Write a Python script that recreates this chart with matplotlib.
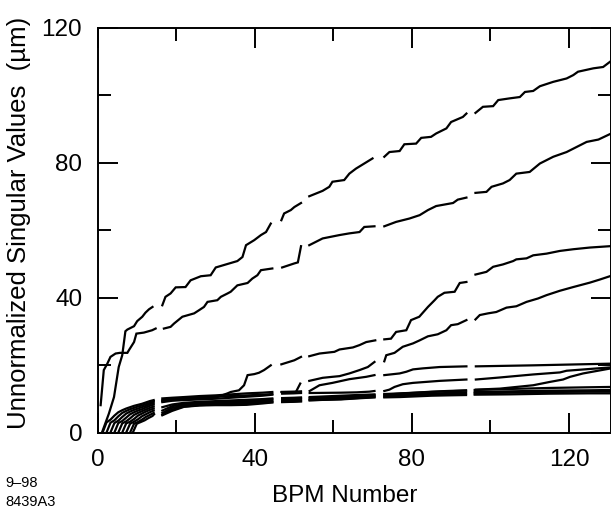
import numpy as np
import matplotlib
matplotlib.use("Agg")
import matplotlib.pyplot as plt
from matplotlib.ticker import MultipleLocator

n = np.nan
GAP = (n, n)  # missing BPMs break the curves

# cumulative singular values (um) vs BPM number
line_a = [(1.2, 0.2), (2.9, 5.6), (4.2, 10.5), (5.4, 19.4), (6.3, 22.9), (7.1, 30.0), (7.6, 30.5),
          (9.3, 31.5), (10.1, 33.0), (11.4, 34.3), (12.2, 35.5), (13.1, 36.5), (14.0, 37.2), GAP,
          (16.5, 37.7), (17.3, 40.2), (18.6, 41.2), (19.9, 43.0), (22.4, 43.1), (23.7, 45.1),
          (26.3, 46.3), (28.8, 46.6), (30.1, 48.9), (32.7, 49.8), (35.6, 50.8), (36.9, 52.0),
          (37.8, 55.5), (39.9, 57.0), (41.6, 58.5), (42.9, 59.4), (44.1, 61.9), GAP,
          (46.8, 62.9), (47.5, 64.9), (49.2, 65.9), (50.1, 66.8), (51.8, 68.0), GAP,
          (53.9, 70.0), (57.3, 71.6), (59.0, 72.8), (59.8, 74.3), (62.8, 74.8), (64.1, 76.7),
          (65.8, 78.2), (67.9, 79.7), (70.0, 81.2), GAP,
          (73.0, 81.7), (74.3, 83.1), (76.9, 83.4), (78.1, 85.4), (81.1, 85.6), (82.4, 87.3),
          (84.9, 87.6), (86.2, 88.6), (88.8, 90.1), (90.0, 92.0), (93.0, 93.5), (93.9, 94.5), GAP,
          (96.2, 94.7), (98.1, 96.5), (100.7, 96.7), (102.0, 98.5), (104.9, 99.0), (107.5, 99.4),
          (108.8, 100.9), (110.9, 101.2), (112.6, 102.6), (116.0, 103.9), (119.4, 104.9),
          (121.1, 105.9), (122.3, 106.9), (126.2, 107.9), (128.7, 108.3), (130.4, 109.8)]

line_b = [(0.8, 8.1), (1.6, 18.5), (2.5, 20.4), (3.3, 22.4), (4.6, 23.4), (5.7, 23.6), (7.6, 23.6),
          (8.0, 24.4), (9.3, 26.8), (9.9, 29.3), (11.8, 29.6), (13.9, 30.3), (14.8, 30.8), GAP,
          (16.9, 30.8), (18.6, 31.3), (19.5, 32.3), (21.6, 34.3), (24.6, 35.3), (25.8, 36.2),
          (27.1, 37.2), (28.0, 38.7), (30.5, 39.2), (31.4, 40.2), (33.1, 41.2), (33.9, 41.7),
          (35.6, 43.6), (38.2, 44.3), (39.4, 45.6), (40.7, 46.6), (41.6, 48.1), (44.5, 48.6), GAP,
          (47.0, 48.9), (50.1, 50.1), (51.0, 50.4), (51.8, 55.2), GAP,
          (53.9, 55.5), (57.3, 57.5), (61.6, 58.5), (64.1, 59.0), (66.7, 59.4), (67.9, 60.9),
          (70.5, 61.1), GAP,
          (73.0, 61.1), (76.0, 62.4), (79.4, 63.4), (82.0, 64.4), (84.1, 65.9), (86.2, 67.1),
          (90.5, 68.0), (91.7, 69.0), (93.9, 69.6), GAP,
          (96.2, 71.0), (99.0, 71.3), (100.3, 72.8), (103.2, 73.8), (104.9, 74.8), (106.6, 76.7),
          (110.0, 77.2), (112.6, 79.7), (116.0, 81.7), (119.4, 83.1), (121.1, 84.1),
          (124.5, 86.1), (127.5, 86.8), (130.4, 88.4)]

line_c = [(3.3, 0), (4.3, 2.8), (5.3, 3.5), (6.3, 4.6), (7.3, 5.6), (8.3, 6.2), (9.3, 6.7),
          (10.3, 7.1), (11.3, 7.5), (12.3, 7.9), (13.3, 8.4), (14.3, 8.8), GAP,
          (16.5, 9.3), (19, 9.6), (22, 9.8), (26, 10.0), (30, 10.3), (33.1, 11.6), (33.9, 12.0),
          (36.0, 12.5), (37.3, 14.0), (38.2, 17.0), (39.9, 17.3), (41.1, 17.7), (42.4, 18.5),
          (44.1, 19.9), GAP,
          (46.8, 20.2), (50.1, 21.4), (51.8, 22.4), GAP,
          (53.9, 22.6), (56.5, 23.4), (60.3, 23.9), (61.6, 24.6), (65.0, 25.2), (66.7, 25.9),
          (68.4, 26.8), (70.7, 27.3), GAP,
          (73.0, 27.6), (74.7, 27.8), (76.0, 29.8), (78.6, 30.3), (79.8, 33.3), (81.9, 34.3),
          (84.1, 37.2), (85.8, 39.2), (86.6, 40.2), (88.3, 41.4), (90.9, 41.7), (92.2, 44.3),
          (93.9, 44.6), GAP,
          (96.2, 46.8), (99.0, 47.6), (100.7, 49.1), (103.2, 49.8), (105.8, 50.8), (106.6, 51.3),
          (109.2, 51.6), (110.9, 52.5), (114.3, 53.0), (117.7, 53.8), (121.1, 54.3),
          (125.3, 54.8), (130.4, 55.2)]

line_d = [(4.3, 0), (5.3, 2.8), (6.3, 3.4), (7.3, 4.4), (8.3, 5.4), (9.3, 6.0), (10.3, 6.5),
          (11.3, 6.9), (12.3, 7.4), (13.3, 7.9), (14.3, 8.3), GAP,
          (16.5, 9.0), (19, 9.4), (22, 9.6), (26, 9.8), (30, 10.0), (34, 10.3), (38, 10.6),
          (42, 10.9), (44.5, 11.2), GAP,
          (46.8, 12.0), (50.5, 12.0), (51.6, 14.5), GAP,
          (53.9, 15.3), (57.3, 16.2), (59.8, 16.5), (61.6, 16.7), (64.1, 17.5), (66.7, 18.5),
          (68.8, 19.4), (70.5, 20.9), GAP,
          (73.0, 21.1), (73.5, 22.9), (75.6, 23.6), (77.7, 25.4), (80.3, 26.4), (82.0, 27.3),
          (84.1, 28.5), (86.6, 29.1), (88.8, 30.3), (90.0, 31.8), (91.7, 32.1), (93.9, 33.3), GAP,
          (96.2, 33.5), (97.3, 34.8), (99.4, 35.3), (101.5, 35.7), (104.1, 37.0), (106.6, 37.4),
          (109.2, 38.7), (112.1, 39.7), (114.3, 40.7), (117.7, 42.0), (121.1, 43.1),
          (125.3, 44.4), (127.8, 45.3), (130.4, 46.3)]

line_e = [(1.3, 0), (2.3, 3.0), (3.3, 3.8), (4.3, 5.0), (5.3, 6.0), (6.3, 6.6), (7.3, 7.1),
          (8.3, 7.5), (9.3, 7.9), (10.3, 8.2), (11.3, 8.5), (12.3, 8.9), (13.3, 9.3), (14.3, 9.6), GAP,
          (16.5, 10.1), (19, 10.3), (22, 10.5), (26, 10.8), (30, 11.0), (34, 11.3), (38, 11.6),
          (42, 11.8), (44.5, 12.0), GAP,
          (47, 12.0), (50, 12.1), (51.8, 12.2), GAP,
          (54, 12.3), (56.5, 14.0), (59.8, 14.7), (64.1, 15.8), (68.4, 16.5), (70.5, 17.0), GAP,
          (73, 17.0), (76.9, 17.5), (78.6, 18.0), (80.3, 18.7), (82.8, 19.0), (87.1, 19.4),
          (93.9, 19.6), GAP,
          (96.3, 19.6), (110.9, 19.9), (130.7, 20.4)]

line_f = [(2.3, 0), (3.3, 2.9), (4.3, 3.6), (5.3, 4.8), (6.3, 5.8), (7.3, 6.4), (8.3, 6.9),
          (9.3, 7.3), (10.3, 7.7), (11.3, 8.0), (12.3, 8.4), (13.3, 8.8), (14.3, 9.2), GAP,
          (16.5, 9.6), (19, 9.9), (22, 10.1), (26, 10.4), (30, 10.6), (34, 10.8), (38, 11.0),
          (42, 11.2), (44.5, 11.4), GAP,
          (47, 11.5), (50, 11.6), (51.8, 11.7), GAP,
          (54, 11.7), (62, 11.8), (66, 11.9), (69.2, 12.1), (70.5, 12.3), GAP,
          (73, 12.3), (74.3, 12.7), (75.6, 13.5), (77.7, 14.3), (80.3, 14.7), (83.7, 15.0),
          (87.1, 15.3), (93.9, 15.7), GAP,
          (96.3, 15.7), (102.4, 16.3), (110.9, 17.2), (117.7, 17.8), (119.4, 18.3), (130.7, 19.3)]

line_g = [(5.3, 0), (6.3, 2.7), (7.3, 3.3), (8.3, 4.2), (9.3, 5.2), (10.3, 5.8), (11.3, 6.3),
          (12.3, 6.8), (13.3, 7.3), (14.3, 7.7), GAP,
          (16.5, 7.5), (19, 8.3), (22, 8.8), (26, 9.1), (30, 9.3), (34, 9.5), (38, 9.7),
          (42, 9.9), (44.5, 10.1), GAP,
          (47, 10.2), (50, 10.3), (51.8, 10.4), GAP,
          (54, 10.5), (58, 10.7), (62, 10.9), (66, 11.1), (70.5, 11.3), GAP,
          (73, 11.4), (77, 11.6), (81, 11.8), (85, 12.0), (89, 12.2), (93.8, 12.4), GAP,
          (96.3, 12.7), (102.4, 13.0), (110.9, 14.0), (115.2, 15.0), (118.5, 15.7),
          (120.3, 16.5), (123.6, 17.5), (130.7, 19.0)]

line_h1 = [(6.3, 0), (7.3, 2.7), (8.3, 3.2), (9.3, 4.0), (10.3, 5.0), (11.3, 5.6), (12.3, 6.2),
           (13.3, 6.7), (14.3, 7.1), GAP,
           (16.5, 6.5), (19, 7.8), (22, 8.4), (26, 8.8), (30, 9.0), (34, 9.2), (38, 9.4),
           (42, 9.6), (44.5, 9.8), GAP,
           (47, 9.9), (50, 10.0), (51.8, 10.1), GAP,
           (54, 10.2), (58, 10.4), (62, 10.6), (66, 10.9), (70.5, 11.1), GAP,
           (73, 11.2), (77, 11.5), (81, 11.8), (85, 12.1), (89, 12.3), (93.8, 12.5), GAP,
           (96, 12.6), (105, 12.9), (115, 13.2), (125, 13.4), (130.7, 13.5)]

line_h2 = [(7.3, 0), (8.3, 2.6), (9.3, 3.2), (10.3, 3.9), (11.3, 4.8), (12.3, 5.4), (13.3, 6.0),
           (14.3, 6.5), GAP,
           (16.5, 5.8), (19, 7.3), (22, 8.0), (26, 8.4), (30, 8.6), (34, 8.8), (38, 9.0),
           (42, 9.2), (44.5, 9.4), GAP,
           (47, 9.5), (50, 9.6), (51.8, 9.7), GAP,
           (54, 9.8), (58, 10.0), (62, 10.2), (66, 10.5), (70.5, 10.8), GAP,
           (73, 10.9), (77, 11.1), (81, 11.3), (85, 11.5), (89, 11.7), (93.8, 11.9), GAP,
           (96, 12.0), (105, 12.2), (115, 12.4), (125, 12.5), (130.7, 12.6)]

line_h3 = [(8.3, 0), (9.3, 2.6), (10.3, 3.1), (11.3, 3.8), (12.3, 4.6), (13.3, 5.2), (14.3, 5.8), GAP,
           (16.5, 5.3), (19, 6.8), (22, 7.7), (26, 8.1), (30, 8.3), (34, 8.4), (38, 8.6),
           (42, 8.8), (44.5, 9.0), GAP,
           (47, 9.1), (50, 9.2), (51.8, 9.3), GAP,
           (54, 9.5), (58, 9.7), (62, 9.9), (66, 10.2), (70.5, 10.5), GAP,
           (73, 10.6), (77, 10.8), (81, 11.0), (85, 11.2), (89, 11.4), (93.8, 11.5), GAP,
           (96, 11.6), (105, 11.8), (115, 12.0), (125, 12.1), (130.7, 12.1)]

line_h4 = [(9.0, 0), (10.0, 2.6), (11.0, 3.1), (12.0, 3.6), (13.0, 4.3), (14.0, 4.9), (14.4, 5.4), GAP,
           (16.5, 5.1), (19, 6.4), (22, 7.6), (26, 8.0), (30, 8.1), (34, 8.1), (38, 8.2),
           (42, 8.6), (44.5, 8.9), GAP,
           (47, 9.0), (50, 9.1), (51.8, 9.2), GAP,
           (54, 9.6), (58, 9.7), (62, 9.8), (66, 10.1), (70.5, 10.4), GAP,
           (73, 10.4), (77, 10.5), (81, 10.7), (85, 10.9), (89, 11.0), (93.8, 11.1), GAP,
           (96, 11.2), (105, 11.3), (115, 11.5), (125, 11.6), (130.7, 11.6)]

all_lines = [line_a, line_b, line_c, line_d, line_e, line_f, line_g,
             line_h1, line_h2, line_h3, line_h4]

plt.rcParams['font.family'] = ['Liberation Sans', 'DejaVu Sans']

fig = plt.figure(figsize=(6.11, 5.12), dpi=100)
ax = fig.add_axes([97.5 / 611, 79.5 / 512, 1 - 97.5 / 611, 405 / 512])

for line in all_lines:
    xy = np.array(line, dtype=float)
    ax.plot(xy[:, 0], xy[:, 1], color='black', lw=1.6, solid_joinstyle='miter')

ax.set_xlim(0, 130.7)
ax.set_ylim(0, 120)
ax.xaxis.set_major_locator(MultipleLocator(40))
ax.xaxis.set_minor_locator(MultipleLocator(20))
ax.yaxis.set_major_locator(MultipleLocator(40))
ax.yaxis.set_minor_locator(MultipleLocator(20))
ax.tick_params(which='both', direction='in', top=True, right=True, width=1.4,
               labelsize=17.5, color='black')
ax.tick_params(which='major', length=14.5)
ax.tick_params(which='minor', length=9.5)
ax.tick_params(axis='x', pad=12)
ax.tick_params(axis='y', pad=11)
for sp in ax.spines.values():
    sp.set_linewidth(1.4)

fig.text(345 / 611, 1 - 496 / 512, 'BPM Number', ha='center', va='center', fontsize=17.5)
fig.text(19 / 611, 1 - 223 / 512, 'Unnormalized Singular Values  (\u00b5m)', rotation=90,
         ha='center', va='center', fontsize=18.5)
fig.text(5 / 611, 1 - 483 / 512, '9\u201398', ha='left', va='center', fontsize=10.5)
fig.text(5 / 611, 1 - 502 / 512, '8439A3', ha='left', va='center', fontsize=10.5)

fig.savefig('out.png', dpi=100)
